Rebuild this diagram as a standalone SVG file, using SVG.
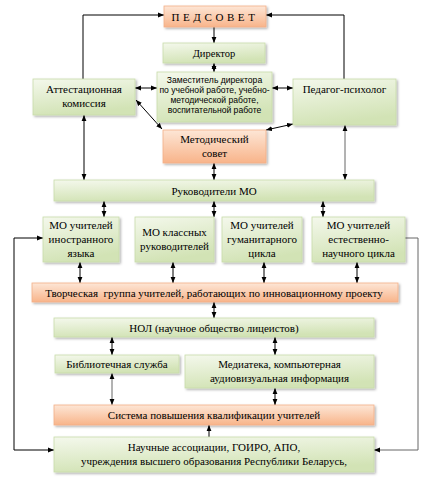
<svg xmlns="http://www.w3.org/2000/svg" width="427" height="479" viewBox="0 0 427 479" font-family="'Liberation Serif', 'Times New Roman', serif">
<defs>
<linearGradient id="gG" x1="0" y1="0" x2="0.3" y2="1">
<stop offset="0" stop-color="#f4f8ec"/>
<stop offset="1" stop-color="#d2e3b5"/>
</linearGradient>
<linearGradient id="gO" x1="0" y1="0" x2="0" y2="1">
<stop offset="0" stop-color="#fde6d6"/>
<stop offset="1" stop-color="#f8b48a"/>
</linearGradient>
<filter id="sh" x="-10%" y="-10%" width="120%" height="140%">
<feDropShadow dx="1.5" dy="1.5" stdDeviation="1" flood-color="#000" flood-opacity="0.3"/>
</filter>
<marker id="ah" viewBox="0 0 10 10" refX="10" refY="5" markerWidth="6" markerHeight="6" orient="auto-start-reverse" markerUnits="userSpaceOnUse">
<path d="M0,1 L10,5 L0,9 Z" fill="#000"/>
</marker>
</defs>
<style>
.g{fill:url(#gG);stroke:#c9dcaa;stroke-width:0.8;filter:url(#sh)}
.o{fill:url(#gO);stroke:#f2b088;stroke-width:0.8;filter:url(#sh)}
text{font-size:11px;fill:#000;text-anchor:middle}
text.s{font-family:"Liberation Sans",Arial,sans-serif;font-size:8.6px}
.c line,.c polyline{stroke:#000;stroke-width:1;fill:none}
.b{marker-start:url(#ah);marker-end:url(#ah)}
.e{marker-end:url(#ah)}
.c .gr{stroke:#666}
</style>
<g class="c" id="connectors">
<polyline class="e" points="83,79 83,15 164,15"/>
<polyline class="e" points="344,79 344,15 266,15"/>
<line class="e" x1="214" y1="27" x2="214" y2="43"/>
<line class="b" x1="214" y1="63" x2="214" y2="72"/>
<line class="b" x1="135" y1="88" x2="157" y2="88"/>
<line class="b" x1="272" y1="88" x2="293" y2="88"/>
<line class="b" x1="136" y1="100" x2="162" y2="129"/>
<line class="b" x1="266" y1="130" x2="293" y2="124"/>
<line class="b" x1="84" y1="115" x2="84" y2="180"/>
<line class="b" x1="214" y1="163" x2="214" y2="180"/>
<line class="b gr" x1="345" y1="125" x2="345" y2="180"/>
<line class="b" x1="104" y1="201" x2="104" y2="217"/>
<line class="b" x1="214" y1="201" x2="214" y2="217"/>
<line class="b" x1="323" y1="201" x2="323" y2="217"/>
<line class="b" x1="80" y1="262" x2="80" y2="283"/>
<line class="b" x1="173" y1="262" x2="173" y2="283"/>
<line class="b" x1="264" y1="262" x2="264" y2="283"/>
<line class="b" x1="357" y1="262" x2="357" y2="283"/>
<line class="b" x1="214" y1="302" x2="214" y2="318"/>
<line class="b" x1="112" y1="337" x2="112" y2="355"/>
<line class="b" x1="275" y1="337" x2="275" y2="355"/>
<line class="b gr" x1="112" y1="373" x2="112" y2="405"/>
<line class="b" x1="275" y1="388" x2="275" y2="405"/>
<line class="e" x1="209" y1="437" x2="209" y2="425"/>
<polyline class="b" points="43,238 14,238 14,450 54,450"/>
<polyline class="e gr" points="405,238 418,238 418,450 374,450"/>
</g>
<g id="pedsovet"><rect class="o" x="164" y="6" width="102" height="21"/><text x="215" y="20.5" style="letter-spacing:3.6px">ПЕДСОВЕТ</text></g>
<g id="director"><rect class="g" x="163" y="43" width="102" height="20"/><text x="214" y="57" style="font-size:10.5px">Директор</text></g>
<g id="zam"><rect class="g" x="157" y="72" width="115" height="50"/>
<text class="s" x="214.5" y="83">Заместитель директора</text>
<text class="s" x="214.5" y="93">по учебной работе, учебно-</text>
<text class="s" x="214.5" y="103">методической работе,</text>
<text class="s" x="214.5" y="113">воспитательной работе</text></g>
<g id="attest"><rect class="g" x="33" y="79" width="102" height="36"/><text x="84" y="93">Аттестационная</text><text x="84" y="107">комиссия</text></g>
<g id="psych"><rect class="g" x="293" y="79" width="103" height="46"/><text x="344.5" y="93">Педагог-психолог</text></g>
<g id="metod"><rect class="o" x="163" y="130" width="103" height="33"/><text x="214.5" y="143">Методический</text><text x="214.5" y="157">совет</text></g>
<g id="ruk"><rect class="g" x="54" y="180" width="320" height="21"/><text x="214" y="194.5">Руководители МО</text></g>
<g id="mo1"><rect class="g" x="43" y="217" width="76" height="45"/><text x="81" y="229">МО учителей</text><text x="81" y="243">иностранного</text><text x="81" y="257">языка</text></g>
<g id="mo2"><rect class="g" x="135" y="217" width="79" height="45"/><text x="174.5" y="236">МО классных</text><text x="174.5" y="250">руководителей</text></g>
<g id="mo3"><rect class="g" x="222" y="217" width="80" height="45"/><text x="262" y="229">МО учителей</text><text x="262" y="243">гуманитарного</text><text x="262" y="257">цикла</text></g>
<g id="mo4"><rect class="g" x="312" y="217" width="93" height="45"/><text x="358.5" y="229">МО учителей</text><text x="358.5" y="243">естественно-</text><text x="358.5" y="257">научного цикла</text></g>
<g id="tvorch"><rect class="o" x="32" y="283" width="366" height="19"/><text x="214" y="296.5" xml:space="preserve">Творческая  группа учителей, работающих по инновационному проекту</text></g>
<g id="nol"><rect class="g" x="54" y="318" width="320" height="19"/><text x="214" y="331.5">НОЛ (научное общество лицеистов)</text></g>
<g id="bibl"><rect class="g" x="55" y="355" width="124" height="18"/><text x="117" y="368">Библиотечная служба</text></g>
<g id="media"><rect class="g" x="185" y="355" width="189" height="33"/><text x="279.5" y="368">Медиатека, компьютерная</text><text x="279.5" y="382">аудиовизуальная информация</text></g>
<g id="sistema"><rect class="o" x="54" y="405" width="320" height="20"/><text x="214" y="419">Система повышения квалификации учителей</text></g>
<g id="nauch"><rect class="g" x="54" y="437" width="320" height="35"/><text x="214" y="451">Научные ассоциации, ГОИРО, АПО,</text><text x="214" y="465">учреждения высшего образования Республики Беларусь,</text></g>
</svg>
